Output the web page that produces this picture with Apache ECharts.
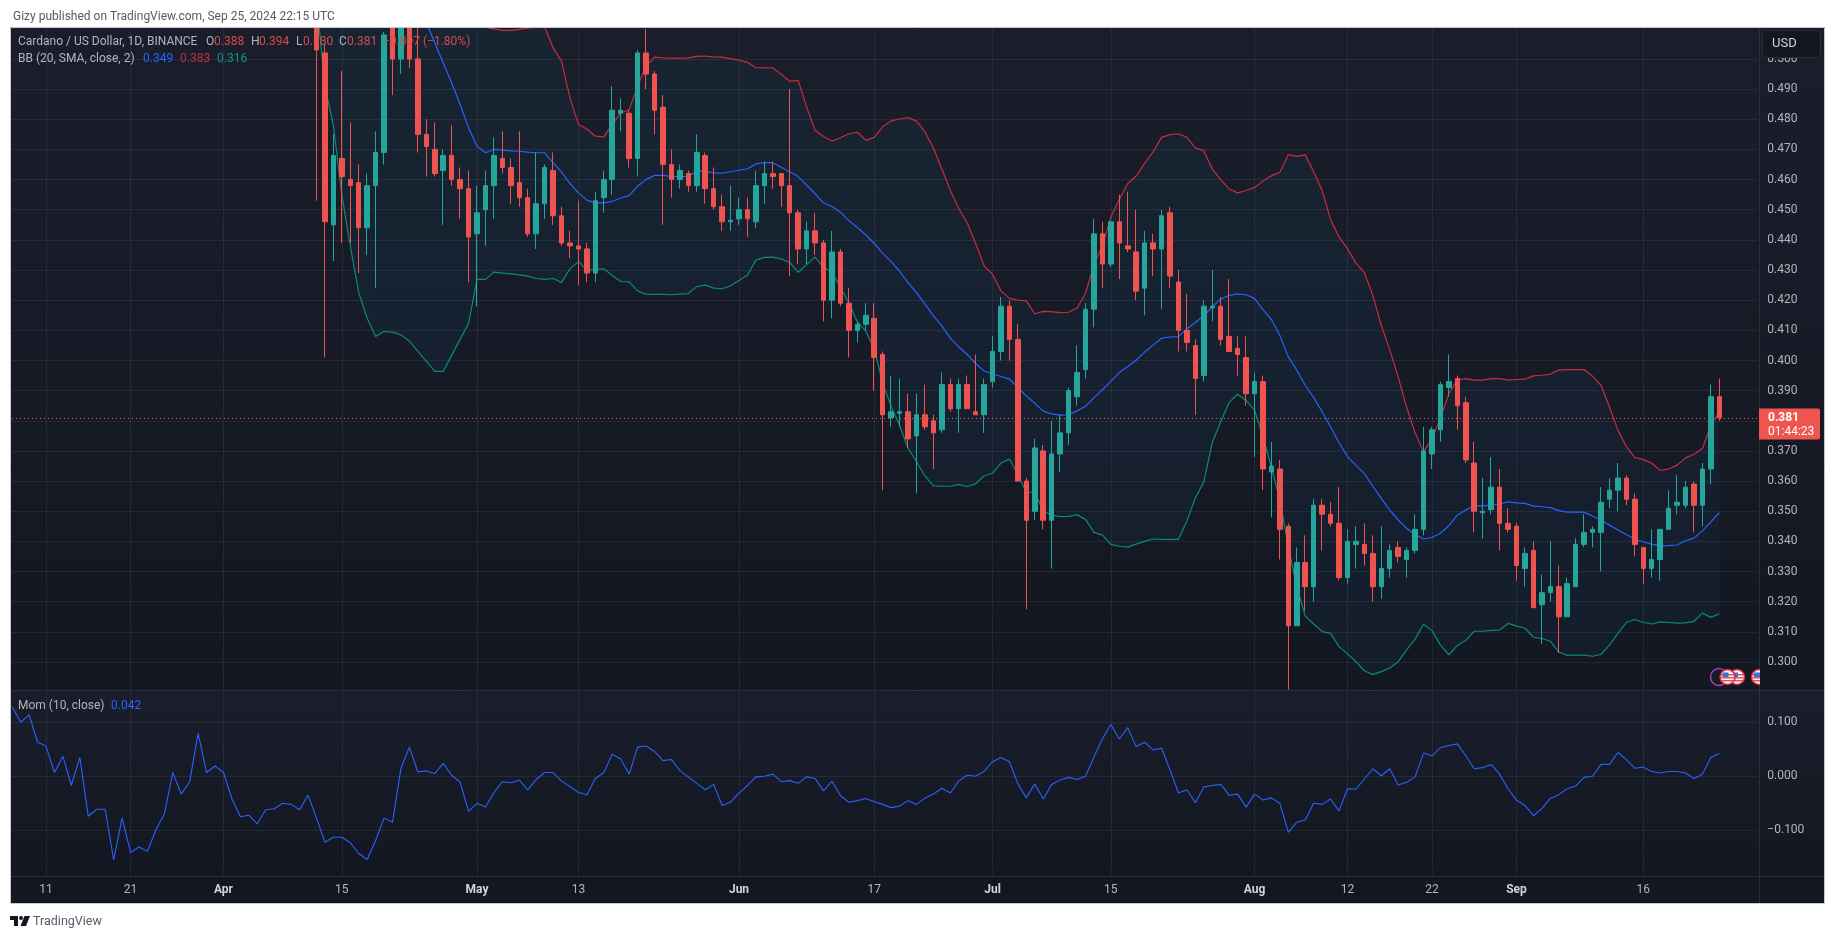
<!DOCTYPE html>
<html>
<head>
<meta charset="utf-8">
<title>Cardano / US Dollar</title>
<script src="https://cdn.jsdelivr.net/npm/echarts@6/dist/echarts.min.js"></script>
<style>
  html, body { margin: 0; padding: 0; background: #fff; }
  #chart { width: 1835px; height: 939px; }
</style>
</head>
<body>
<div id="chart"></div>
<script>
// date axis: one slot per day, first slot is 2024-03-07, last is just past the latest candle
const firstDay = Date.UTC(2024, 2, 7);
const dayCount = 207;
const firstCandleSlot = 36; // 2024-04-12
const dayLabels = {
  "2024-03-11": "11", "2024-03-21": "21", "2024-04-01": "Apr", "2024-04-15": "15",
  "2024-05-01": "May", "2024-05-13": "13", "2024-06-01": "Jun", "2024-06-17": "17",
  "2024-07-01": "Jul", "2024-07-15": "15", "2024-08-01": "Aug", "2024-08-12": "12",
  "2024-08-22": "22", "2024-09-01": "Sep", "2024-09-16": "16",
};
const priceTicks = [0.30, 0.31, 0.32, 0.33, 0.34, 0.35, 0.36, 0.37, 0.38, 0.39, 0.40,
  0.41, 0.42, 0.43, 0.44, 0.45, 0.46, 0.47, 0.48, 0.49, 0.50];
const momTicks = [-0.1, 0, 0.1];
const lastPrice = 0.381;

// open, high, low, close from 2024-04-12
const ohlc = [
  [0.52,0.53,0.453,0.503],[0.502,0.505,0.401,0.446],[0.445,0.475,0.433,0.468],[0.467,0.496,0.439,0.461],[0.46,0.479,0.439,0.458],
  [0.459,0.465,0.429,0.444],[0.444,0.462,0.435,0.458],[0.458,0.476,0.424,0.469],[0.469,0.509,0.465,0.508],[0.512,0.52,0.488,0.5],
  [0.5,0.53,0.495,0.515],[0.52,0.53,0.497,0.5],[0.5,0.516,0.469,0.475],[0.475,0.48,0.461,0.471],[0.47,0.479,0.461,0.462],
  [0.463,0.47,0.445,0.468],[0.468,0.478,0.458,0.46],[0.46,0.464,0.447,0.457],[0.457,0.463,0.426,0.441],[0.442,0.458,0.418,0.449],
  [0.45,0.463,0.438,0.458],[0.458,0.474,0.447,0.468],[0.467,0.476,0.462,0.464],[0.464,0.467,0.452,0.458],[0.459,0.476,0.451,0.454],
  [0.454,0.457,0.441,0.442],[0.442,0.469,0.437,0.452],[0.452,0.465,0.447,0.464],[0.463,0.469,0.445,0.448],[0.448,0.451,0.438,0.439],
  [0.439,0.443,0.434,0.438],[0.438,0.453,0.425,0.437],[0.437,0.439,0.426,0.429],[0.429,0.456,0.426,0.453],[0.454,0.463,0.449,0.46],
  [0.46,0.491,0.455,0.483],[0.482,0.487,0.476,0.483],[0.482,0.483,0.464,0.467],[0.467,0.503,0.461,0.502],[0.502,0.51,0.49,0.495],
  [0.495,0.496,0.475,0.483],[0.484,0.488,0.445,0.465],[0.465,0.47,0.454,0.46],[0.46,0.465,0.457,0.463],[0.462,0.463,0.456,0.458],
  [0.458,0.475,0.456,0.469],[0.468,0.469,0.452,0.457],[0.457,0.464,0.45,0.451],[0.451,0.455,0.443,0.446],[0.446,0.458,0.443,0.4465],
  [0.447,0.454,0.445,0.45],[0.45,0.454,0.441,0.447],[0.446,0.463,0.444,0.458],[0.458,0.466,0.452,0.462],[0.462,0.466,0.457,0.461],
  [0.462,0.462,0.451,0.458],[0.458,0.49,0.428,0.449],[0.449,0.45,0.432,0.437],[0.437,0.446,0.432,0.443],[0.443,0.449,0.435,0.439],
  [0.439,0.44,0.413,0.42],[0.42,0.443,0.414,0.436],[0.436,0.437,0.418,0.419],[0.419,0.424,0.401,0.41],[0.41,0.413,0.406,0.412],
  [0.412,0.419,0.41,0.415],[0.414,0.419,0.39,0.401],[0.402,0.403,0.357,0.382],[0.381,0.395,0.378,0.383],[0.3825,0.394,0.378,0.383],
  [0.383,0.389,0.371,0.374],[0.375,0.389,0.356,0.382],[0.382,0.392,0.377,0.378],[0.38,0.382,0.364,0.376],[0.377,0.396,0.376,0.392],
  [0.392,0.394,0.383,0.384],[0.384,0.394,0.376,0.392],[0.392,0.395,0.384,0.384],[0.383,0.402,0.382,0.382],[0.382,0.394,0.376,0.392],
  [0.393,0.408,0.391,0.403],[0.403,0.421,0.4,0.418],[0.418,0.42,0.4,0.407],[0.407,0.412,0.36,0.36],[0.36,0.361,0.3175,0.347],
  [0.35,0.374,0.347,0.371],[0.37,0.372,0.344,0.347],[0.347,0.38,0.331,0.369],[0.369,0.382,0.363,0.376],[0.376,0.391,0.372,0.39],
  [0.388,0.405,0.385,0.396],[0.397,0.419,0.394,0.417],[0.417,0.447,0.411,0.442],[0.442,0.446,0.424,0.432],[0.432,0.446,0.431,0.446],
  [0.446,0.455,0.427,0.439],[0.438,0.456,0.436,0.437],[0.436,0.45,0.42,0.423],[0.424,0.443,0.415,0.439],[0.439,0.442,0.428,0.437],
  [0.437,0.45,0.417,0.448],[0.449,0.451,0.424,0.428],[0.426,0.43,0.403,0.41],[0.41,0.422,0.403,0.406],[0.405,0.407,0.382,0.394],
  [0.395,0.42,0.393,0.418],[0.4175,0.43,0.413,0.418],[0.418,0.421,0.405,0.407],[0.408,0.427,0.403,0.403],[0.404,0.408,0.395,0.402],
  [0.401,0.408,0.385,0.389],[0.389,0.396,0.368,0.393],[0.393,0.395,0.357,0.364],[0.363,0.373,0.348,0.365],[0.364,0.367,0.334,0.344],
  [0.345,0.346,0.2908,0.312],[0.312,0.338,0.312,0.333],[0.333,0.342,0.317,0.325],[0.325,0.354,0.32,0.352],[0.352,0.354,0.337,0.349],
  [0.349,0.353,0.345,0.346],[0.346,0.358,0.327,0.328],[0.328,0.344,0.326,0.34],[0.339,0.345,0.331,0.34],[0.339,0.346,0.332,0.336],
  [0.336,0.342,0.32,0.325],[0.325,0.345,0.321,0.331],[0.331,0.339,0.328,0.337],[0.338,0.34,0.333,0.335],[0.334,0.338,0.328,0.337],
  [0.337,0.349,0.336,0.344],[0.344,0.378,0.342,0.37],[0.369,0.378,0.364,0.377],[0.377,0.393,0.373,0.392],[0.391,0.402,0.388,0.393],
  [0.394,0.395,0.377,0.385],[0.386,0.388,0.366,0.367],[0.366,0.373,0.343,0.35],[0.3495,0.361,0.341,0.35],[0.3505,0.368,0.349,0.358],
  [0.358,0.364,0.337,0.346],[0.346,0.351,0.343,0.344],[0.345,0.346,0.327,0.332],[0.331,0.338,0.325,0.336],[0.337,0.34,0.318,0.318],
  [0.319,0.329,0.306,0.323],[0.323,0.34,0.32,0.325],[0.325,0.332,0.303,0.315],[0.315,0.328,0.315,0.326],[0.325,0.341,0.325,0.339],
  [0.339,0.349,0.338,0.343],[0.343,0.345,0.338,0.344],[0.343,0.358,0.33,0.353],[0.354,0.361,0.351,0.357],[0.357,0.366,0.35,0.361],
  [0.361,0.362,0.352,0.354],[0.354,0.356,0.335,0.339],[0.338,0.338,0.326,0.331],[0.331,0.344,0.328,0.334],[0.334,0.344,0.327,0.344],
  [0.344,0.357,0.344,0.351],[0.352,0.362,0.349,0.353],[0.352,0.36,0.351,0.358],[0.359,0.36,0.343,0.352],[0.352,0.366,0.345,0.364],
  [0.364,0.392,0.359,0.388],[0.388,0.394,0.38,0.381],
];

// Bollinger upper from 2024-04-12; the first values sit above the visible pane and are estimates
const bbUpper = [
  0.78,0.78,0.77,0.75,0.73,0.70,0.67,0.64,0.62,0.60,0.59,0.575,0.56,0.55,0.54,0.535,0.53,0.525,0.52,0.514,
  0.5105,0.51,0.5095,0.5095,0.5098,0.5102,0.5105,0.5107,0.5037,0.4993,0.4871,0.4783,0.4768,0.4744,0.4742,0.4783,0.4821,0.4832,0.491,0.4976,
  0.5006,0.5004,0.5003,0.5003,0.5004,0.5009,0.501,0.5007,0.5006,0.5001,0.4996,0.4989,0.4971,0.4971,0.4971,0.4949,0.4926,0.4929,0.4841,0.4764,
  0.4743,0.4728,0.4739,0.4752,0.4757,0.473,0.474,0.4775,0.4795,0.4801,0.4806,0.4794,0.4759,0.4705,0.4635,0.4565,0.4504,0.4457,0.4388,0.4314,
  0.4286,0.4231,0.4206,0.42,0.4198,0.4155,0.4163,0.4162,0.4159,0.416,0.4174,0.4223,0.4318,0.4381,0.4476,0.4534,0.4587,0.4612,0.4654,0.4692,
  0.474,0.4749,0.4752,0.474,0.4705,0.4696,0.4635,0.46,0.4569,0.4556,0.4564,0.4574,0.4595,0.4613,0.4624,0.4683,0.4677,0.4682,0.4626,0.4565,
  0.4467,0.441,0.4371,0.4323,0.4291,0.4216,0.4116,0.4036,0.3945,0.3845,0.376,0.3697,0.3741,0.3808,0.3891,0.3935,0.394,0.3935,0.3935,0.394,
  0.394,0.3935,0.3937,0.3938,0.3949,0.3951,0.3955,0.3968,0.397,0.397,0.397,0.3948,0.3918,0.3846,0.3769,0.3714,0.3678,0.3672,0.3659,0.3636,
  0.364,0.3653,0.3677,0.3689,0.3708,0.3786,0.383,
];
const bbBasis = [
  0.68,0.67,0.66,0.65,0.64,0.63,0.62,0.605,0.59,0.575,0.56,0.54,0.523,0.512,0.5054,0.4987,0.4921,0.4849,0.4772,0.4711,
  0.4689,0.47,0.4698,0.4695,0.4694,0.4691,0.4689,0.4689,0.4656,0.4625,0.4587,0.4556,0.4532,0.4523,0.4523,0.4528,0.4539,0.4547,0.4578,0.46,
  0.4614,0.4614,0.4611,0.461,0.4611,0.4628,0.4628,0.4622,0.4621,0.4626,0.4631,0.4636,0.4652,0.4656,0.4656,0.4641,0.4626,0.461,0.4582,0.4553,
  0.4523,0.4511,0.4492,0.4464,0.4441,0.4417,0.4388,0.4356,0.4328,0.4296,0.4258,0.4225,0.4187,0.4149,0.4115,0.4074,0.4045,0.402,0.399,0.3965,
  0.3956,0.3947,0.3938,0.3912,0.3882,0.3858,0.3832,0.3823,0.3819,0.382,0.3833,0.3848,0.3877,0.3903,0.3931,0.396,0.398,0.4001,0.4028,0.4051,
  0.4074,0.4078,0.4079,0.4105,0.4126,0.4149,0.4178,0.4204,0.4216,0.4221,0.4218,0.4206,0.4169,0.4136,0.4083,0.4012,0.3968,0.3918,0.3877,0.383,
  0.378,0.3727,0.3681,0.3653,0.3625,0.3583,0.3543,0.3504,0.3471,0.3443,0.3423,0.3408,0.3413,0.3427,0.3452,0.3487,0.3504,0.3518,0.3518,0.352,
  0.3524,0.3531,0.3528,0.3526,0.3517,0.3515,0.3512,0.3502,0.3497,0.3497,0.3497,0.3484,0.3471,0.3454,0.3438,0.3423,0.3407,0.3398,0.3391,0.3385,
  0.3386,0.3388,0.3402,0.3411,0.3435,0.3465,0.3495,
];
const bbLower = [
  0.52,0.491,0.478,0.455,0.438,0.4225,0.414,0.408,0.4096,0.4094,0.4085,0.4064,0.403,0.3997,0.3964,0.3964,0.4017,0.407,0.4123,0.4269,
  0.4269,0.4293,0.429,0.4287,0.4284,0.428,0.4272,0.4269,0.4272,0.4259,0.4304,0.4328,0.43,0.4302,0.4304,0.4282,0.4262,0.4261,0.4231,0.422,
  0.4219,0.4219,0.4218,0.422,0.4222,0.4245,0.425,0.424,0.4238,0.4248,0.4265,0.4283,0.4333,0.4342,0.4343,0.4337,0.4325,0.4292,0.4318,0.4343,
  0.4309,0.4292,0.4242,0.4191,0.4128,0.4098,0.4039,0.3924,0.3848,0.3785,0.3709,0.3664,0.3617,0.3584,0.3583,0.3583,0.3589,0.3582,0.3591,0.3617,
  0.3626,0.366,0.3673,0.362,0.3563,0.3563,0.35,0.3487,0.3482,0.3483,0.3488,0.3473,0.343,0.3421,0.339,0.3384,0.3381,0.3391,0.34,0.3408,
  0.3407,0.3407,0.3407,0.3468,0.3544,0.3597,0.3728,0.3797,0.3861,0.3888,0.3867,0.3836,0.3747,0.3646,0.3537,0.3382,0.325,0.3152,0.3126,0.3101,
  0.3095,0.3051,0.3027,0.3001,0.2971,0.2958,0.2968,0.298,0.3001,0.304,0.3076,0.3125,0.3104,0.3056,0.3024,0.3055,0.3072,0.3102,0.3102,0.3105,
  0.3106,0.3128,0.3119,0.3112,0.3082,0.3078,0.3069,0.3033,0.3022,0.3023,0.3023,0.3019,0.3025,0.3056,0.3095,0.3131,0.3141,0.3131,0.3126,0.3133,
  0.3131,0.3129,0.313,0.3135,0.3162,0.3148,0.316,
];

// momentum from 2024-03-07
const momentum = [
  0.129,0.100,0.114,0.063,0.056,0.007,0.037,-0.017,0.035,-0.074,-0.061,-0.061,-0.155,-0.077,-0.141,-0.131,-0.139,-0.099,-0.070,0.007,
  -0.033,-0.010,0.080,0.007,0.019,0.007,-0.042,-0.075,-0.072,-0.088,-0.062,-0.060,-0.050,-0.052,-0.062,-0.035,-0.077,-0.122,-0.113,-0.113,
  -0.123,-0.143,-0.154,-0.119,-0.077,-0.085,0.015,0.054,0.008,0.010,0.005,0.024,0.002,-0.011,-0.065,-0.050,-0.057,-0.030,-0.010,-0.012,
  -0.007,-0.025,-0.006,0.007,0.007,-0.009,-0.019,-0.030,-0.034,-0.004,0.007,0.041,0.032,0.004,0.054,0.056,0.046,0.029,0.031,0.011,
  -0.001,-0.013,-0.025,-0.015,-0.054,-0.048,-0.031,-0.017,-0.001,0,0.004,-0.010,-0.008,-0.013,-0.001,-0.004,-0.027,-0.009,-0.036,-0.048,
  -0.045,-0.041,-0.047,-0.052,-0.058,-0.055,-0.045,-0.052,-0.040,-0.033,-0.022,-0.031,-0.009,0.002,0,0.009,0.027,0.035,0.027,-0.014,
  -0.040,-0.014,-0.042,-0.015,-0.007,-0.002,-0.006,0,0.036,0.069,0.096,0.069,0.090,0.055,0.063,0.049,0.052,0.012,-0.031,-0.025,
  -0.049,-0.020,-0.017,-0.015,-0.035,-0.033,-0.057,-0.033,-0.044,-0.040,-0.050,-0.104,-0.085,-0.081,-0.050,-0.052,-0.042,-0.064,-0.023,-0.024,
  -0.005,0.014,0.001,0.014,-0.016,-0.011,-0.001,0.043,0.038,0.053,0.057,0.060,0.038,0.014,0.016,0.022,0.004,-0.023,-0.044,-0.054,
  -0.073,-0.060,-0.041,-0.034,-0.023,-0.018,-0.002,0,0.022,0.022,0.044,0.031,0.015,0.017,0.009,0.006,0.009,0.009,0.006,-0.004,
  0.004,0.035,0.042,
];

const FONT = "Roboto, 'Liberation Sans', sans-serif";
const GRID_COLOR = "rgba(240,243,250,0.07)";
const UP = "#26a69a";
const DOWN = "#ef5350";
const BG_TOP = "#191e2a";
const BG_BOTTOM = "#131722";
const FRAME = { left: 10, top: 27, right: 1825, bottom: 903 };
const PRICE_PANE = { top: 27, bottom: 690 };
const MOM_PANE = { top: 691, bottom: 876 };
const AXIS_X = 1759;
const SLOT = 8.451;

const categories = [];
for (let i = 0; i < dayCount; i++) {
  categories.push(new Date(firstDay + i * 86400000).toISOString().slice(0, 10));
}
const isLabelled = (idx, val) => val in dayLabels;
const pad = (arr, blank) => new Array(firstCandleSlot).fill(blank).concat(arr);
const candleData = ohlc.map((r) => [r[0], r[3], r[2], r[1]]);
const bandWidth = bbUpper.map((v, i) => v - bbLower[i]);

function gradient() {
  return new echarts.graphic.LinearGradient(0, 0, 0, 1, [
    { offset: 0, color: BG_TOP },
    { offset: 1, color: BG_BOTTOM },
  ]);
}
function paneRect(top, bottom) {
  return {
    type: "rect", z: -10, silent: true,
    shape: { x: FRAME.left, y: top, width: FRAME.right - FRAME.left, height: bottom - top },
    style: { fill: gradient() },
  };
}
function hLine(y, color) {
  return {
    type: "line", z: -5, silent: true,
    shape: { x1: FRAME.left, y1: y + 0.5, x2: FRAME.right, y2: y + 0.5 },
    style: { stroke: color, lineWidth: 1 },
  };
}
function txt(x, y, text, color, size, weight, z) {
  return {
    type: "text", x: x, y: y, z: z || 8, silent: true,
    style: { text: text, fill: color, font: (weight || "normal") + " " + (size || 12) + "px " + FONT, verticalAlign: "middle" },
  };
}
function flag(cx, cy, z) {
  const stripes = [-3, 0, 3].map((dy) => ({
    type: "rect", z: z, silent: true,
    shape: { x: cx - 6.5, y: cy + dy, width: 13, height: 1.5 },
    style: { fill: "#e8505b" },
  }));
  return [
    { type: "circle", z: z, silent: true, shape: { cx: cx, cy: cy, r: 7.5 }, style: { fill: "#f4f4f4", stroke: "#d9263f", lineWidth: 1.5 } },
    ...stripes,
    { type: "rect", z: z, silent: true, shape: { x: cx - 5, y: cy - 4.5, width: 6, height: 4.5 }, style: { fill: "#3b74d8" } },
  ];
}

const graphics = [
  paneRect(PRICE_PANE.top, PRICE_PANE.bottom),
  paneRect(MOM_PANE.top, MOM_PANE.bottom),
  { type: "rect", z: -10, silent: true, shape: { x: FRAME.left, y: MOM_PANE.bottom, width: FRAME.right - FRAME.left, height: FRAME.bottom - MOM_PANE.bottom }, style: { fill: BG_BOTTOM } },
  hLine(690, "#2a2e39"),
  hLine(876, "#2a2e39"),
  { type: "line", z: -5, silent: true, shape: { x1: AXIS_X + 0.5, y1: FRAME.top, x2: AXIS_X + 0.5, y2: FRAME.bottom }, style: { stroke: "#2a2e39", lineWidth: 1 } },
  // white margins over the overflow of the grid and of tall candles, then the outer frame
  { type: "rect", z: 6, silent: true, shape: { x: 0, y: 0, width: FRAME.left, height: 939 }, style: { fill: "#fff" } },
  { type: "rect", z: 6, silent: true, shape: { x: 0, y: 0, width: 1835, height: FRAME.top }, style: { fill: "#fff" } },
  { type: "rect", z: 7, silent: true, shape: { x: FRAME.left + 0.5, y: FRAME.top + 0.5, width: FRAME.right - FRAME.left - 1, height: FRAME.bottom - FRAME.top }, style: { fill: "none", stroke: "#c4c7cf", lineWidth: 1 } },

  txt(13, 17, "Gizy published on TradingView.com, Sep 25, 2024 22:15 UTC", "#555a66", 12),

  txt(18, 42, "Cardano / US Dollar, 1D, BINANCE", "#b2b5be"),
  txt(206, 42, "O", "#b2b5be"), txt(214, 42, "0.388", "#d8494f"),
  txt(251, 42, "H", "#b2b5be"), txt(259, 42, "0.394", "#d8494f"),
  txt(296, 42, "L", "#b2b5be"), txt(303, 42, "0.380", "#d8494f"),
  txt(339, 42, "C", "#b2b5be"), txt(347, 42, "0.381", "#d8494f"),
  txt(383, 42, "\u22120.007 (\u22121.80%)", "#d8494f"),

  txt(18, 59, "BB (20, SMA, close, 2)", "#b2b5be"),
  txt(143, 59, "0.349", "#2962ff"),
  txt(180, 59, "0.383", "#c72c41"),
  txt(217, 59, "0.316", "#089981"),

  txt(18, 706, "Mom (10, close)", "#b2b5be"),
  txt(111, 706, "0.042", "#2962ff"),

  // event markers along the bottom of the price pane
  { type: "circle", z: 4, silent: true, shape: { cx: 1719, cy: 677, r: 8.5 }, style: { fill: "#161a25", stroke: "#a13fb0", lineWidth: 1.5 } },
  ...flag(1737, 677, 4),
  ...flag(1727.5, 677, 4.5),
  ...flag(1759, 677, 4),
  { type: "rect", z: 4.8, silent: true, shape: { x: AXIS_X + 1, y: 668, width: 12, height: 20 }, style: { fill: "#141823" } },

  // last price tag
  { type: "rect", z: 7, silent: true, shape: { x: AXIS_X, y: 408.5, width: 61, height: 31, r: [0, 2, 2, 0] }, style: { fill: "#f0544f" } },
  txt(1768, 418, "0.381", "#ffffff", 12, "bold"),
  txt(1768, 432, "01:44:23", "#ffffff", 12),

  // currency button
  { type: "rect", z: 7, silent: true, shape: { x: 1762.5, y: 30.5, width: 58, height: 27, r: 4 }, style: { fill: "#131722", stroke: "#2a2e39", lineWidth: 1 } },
  txt(1772, 44, "USD", "#d1d4dc", 13),

  // brand mark below the frame
  { type: "polygon", z: 8, silent: true, shape: { points: [[10, 916], [18, 916], [18, 926], [14, 926], [14, 920], [10, 920]] }, style: { fill: "#131722" } },
  { type: "polygon", z: 8, silent: true, shape: { points: [[24.5, 916], [30, 916], [26, 926], [20.5, 926]] }, style: { fill: "#131722" } },
  { type: "circle", z: 8, silent: true, shape: { cx: 21, cy: 918, r: 2 }, style: { fill: "#131722" } },
  txt(33, 922, "TradingView", "#555a66", 12.5),
];

const gridBox = { left: 8, width: SLOT * dayCount };

const option = {
  animation: false,
  backgroundColor: "#ffffff",
  textStyle: { fontFamily: FONT },
  graphic: { elements: graphics },
  grid: [
    { left: gridBox.left, width: gridBox.width, top: PRICE_PANE.top, height: PRICE_PANE.bottom - PRICE_PANE.top },
    { left: gridBox.left, width: gridBox.width, top: MOM_PANE.top, height: MOM_PANE.bottom - MOM_PANE.top },
  ],
  xAxis: [
    {
      type: "category", gridIndex: 0, data: categories, boundaryGap: true,
      axisLine: { show: false }, axisTick: { show: false }, axisLabel: { show: false },
      splitLine: { show: true, interval: isLabelled, alignWithLabel: true, lineStyle: { color: GRID_COLOR } },
    },
    {
      type: "category", gridIndex: 1, data: categories, boundaryGap: true,
      axisLine: { show: false }, axisTick: { show: false },
      axisLabel: {
        interval: isLabelled, margin: 8, hideOverlap: false,
        formatter: (v) => {
          const t = dayLabels[v];
          return isNaN(+t) ? "{m|" + t + "}" : "{d|" + t + "}";
        },
        rich: {
          m: { color: "#d1d4dc", fontSize: 12, fontWeight: "bold", fontFamily: FONT },
          d: { color: "#b2b5be", fontSize: 12, fontFamily: FONT },
        },
      },
      splitLine: { show: true, interval: isLabelled, alignWithLabel: true, lineStyle: { color: GRID_COLOR } },
    },
  ],
  yAxis: [
    {
      type: "value", gridIndex: 0, position: "right", scale: true,
      min: 0.3 - (690 - 662) / 3015, max: 0.3 + (662 - 27) / 3015,
      axisLine: { show: false },
      axisTick: { show: false, customValues: priceTicks },
      axisLabel: { customValues: priceTicks, margin: 10, color: "#b2b5be", fontSize: 12, fontFamily: FONT, formatter: (v) => v.toFixed(3) },
      splitLine: { show: true, lineStyle: { color: GRID_COLOR } },
    },
    {
      type: "value", gridIndex: 1, position: "right", scale: true,
      min: -(876 - 776.3) / 540, max: (776.3 - 691) / 540,
      axisLine: { show: false },
      axisTick: { show: false, customValues: momTicks },
      axisLabel: { customValues: momTicks, margin: 10, color: "#b2b5be", fontSize: 12, fontFamily: FONT, formatter: (v) => (v < 0 ? "\u2212" : "") + Math.abs(v).toFixed(3) },
      splitLine: { show: true, lineStyle: { color: GRID_COLOR } },
    },
  ],
  series: [
    {
      name: "band base", type: "line", xAxisIndex: 0, yAxisIndex: 0, z: 1, stack: "bb", silent: true,
      data: pad(bbLower, "-"), showSymbol: false, lineStyle: { opacity: 0 },
    },
    {
      name: "band fill", type: "line", xAxisIndex: 0, yAxisIndex: 0, z: 1, stack: "bb", silent: true,
      data: pad(bandWidth, "-"), showSymbol: false, lineStyle: { opacity: 0 },
      areaStyle: { color: "rgba(33,150,243,0.07)" },
    },
    {
      name: "BB upper", type: "line", xAxisIndex: 0, yAxisIndex: 0, z: 2, silent: true,
      data: pad(bbUpper, "-"), showSymbol: false, lineStyle: { color: "#c72c41", width: 1.2 },
      markLine: {
        z: 2, silent: true, symbol: "none", animation: false, precision: 3, label: { show: false },
        lineStyle: { color: "#f7525f", type: [1, 3], width: 1 },
        data: [{ yAxis: lastPrice }],
      },
    },
    {
      name: "BB basis", type: "line", xAxisIndex: 0, yAxisIndex: 0, z: 2, silent: true,
      data: pad(bbBasis, "-"), showSymbol: false, lineStyle: { color: "#2962ff", width: 1.2 },
    },
    {
      name: "BB lower", type: "line", xAxisIndex: 0, yAxisIndex: 0, z: 2, silent: true,
      data: pad(bbLower, "-"), showSymbol: false, lineStyle: { color: "#0a8a75", width: 1.2 },
    },
    {
      name: "ADAUSD", type: "candlestick", xAxisIndex: 0, yAxisIndex: 0, z: 3, silent: true,
      data: pad(candleData, ["-", "-", "-", "-"]), barWidth: 5,
      itemStyle: { color: UP, color0: DOWN, borderColor: UP, borderColor0: DOWN, borderWidth: 1 },
    },
    {
      name: "Mom", type: "line", xAxisIndex: 1, yAxisIndex: 1, z: 2, silent: true,
      data: momentum, showSymbol: false, lineStyle: { color: "#2962ff", width: 1.1 },
    },
  ],
};

const myChart = echarts.init(document.getElementById("chart"));
myChart.setOption(option);
</script>
</body>
</html>
